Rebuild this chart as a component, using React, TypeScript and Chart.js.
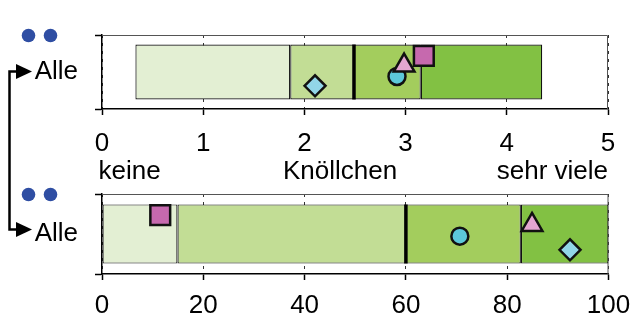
import React, { useEffect, useRef } from "react";
import { Chart, registerables } from "chart.js";

Chart.register(...registerables);

const FONT = "'Liberation Sans', Arial, Helvetica, sans-serif";
const FONT_SIZE = 26;

// ---------- data ----------
const groupLabels = ["Alle"];

// upper panel: nodule score 0..5 (segment edges: min, q1, median, q3, max)
const scoreBounds = [0.33, 1.86, 2.49, 3.15, 4.35];
const scoreMedian = 2.49;
// markers in order: square, triangle, circle, diamond
const scoreMarkers = [3.18, 2.985, 2.915, 2.105];
const scoreMarkerRows = [0.828, 0.631, 0.409, 0.22];
const scoreTickStep = 1;
const scoreMax = 5;

// lower panel: percent 0..100
const pctBounds = [0, 14.9, 60, 82.7, 100];
const pctMedian = 60;
const pctMarkers = [11.5, 84.9, 70.65, 92.4];
const pctMarkerRows = [0.854, 0.67, 0.459, 0.204];
const pctTickStep = 20;
const pctMax = 100;

const scaleWords = ["keine", "Knöllchen", "sehr viele"];

// ---------- styles ----------
const segColors = ["#E3EFD3", "#C2DD95", "#A3CD5D", "#82C143"];
const markerStyles = ["rect", "triangle", "circle", "rectRot"];
const markerColors = ["#C669AE", "#E3A6D0", "#5CC8DA", "#92D6E8"];
const markerRadius = [14, 12, 8.5, 10.5];

type Layout = {
  area: { left: number; top: number; right: number; bottom: number };
  xAxisHeight: number;
  labelPad: number;
  medianHalf: number;
  annotate: boolean;
};

function buildConfig(
  bounds: number[],
  median: number,
  markers: number[],
  rows: number[],
  max: number,
  step: number,
  lay: Layout
): any {
  const datasets: any[] = [];
  markers.forEach((v, i) => {
    datasets.push({
      type: "scatter",
      indexAxis: "x",
      xAxisID: "x",
      yAxisID: "y2",
      order: 0,
      data: [{ x: v, y: rows[i] }],
      pointStyle: markerStyles[i],
      radius: markerRadius[i],
      backgroundColor: markerColors[i],
      borderColor: "#111",
      borderWidth: 2.5,
    });
  });
  datasets.push({
    type: "scatter",
    indexAxis: "x",
    xAxisID: "x",
    yAxisID: "y2",
    order: 1,
    data: [{ x: median, y: 0.5 }],
    pointStyle: "line",
    rotation: 90,
    radius: lay.medianHalf,
    borderColor: "#000",
    borderWidth: 3.5,
  });
  for (let i = 0; i < bounds.length - 1; i++) {
    datasets.push({
      type: "bar",
      xAxisID: "x",
      yAxisID: "y",
      order: 2,
      data: [[bounds[i], bounds[i + 1]]],
      backgroundColor: segColors[i],
      borderColor: "#111",
      borderWidth: 1.2,
      borderSkipped: false,
      grouped: false,
      barPercentage: 0.74,
      categoryPercentage: 1,
    });
  }

  const framePlugin = {
    id: "frame",
    beforeDatasetsDraw(chart: any) {
      const { ctx, chartArea } = chart;
      ctx.save();
      ctx.strokeStyle = "#555";
      ctx.lineWidth = 1;
      ctx.beginPath();
      ctx.moveTo(chartArea.left, chartArea.top + 0.5);
      ctx.lineTo(chartArea.right - 0.5, chartArea.top + 0.5);
      ctx.lineTo(chartArea.right - 0.5, chartArea.bottom);
      ctx.stroke();
      ctx.restore();
    },
  };

  const annotPlugin = {
    id: "annot",
    afterDraw(chart: any) {
      const { ctx, chartArea } = chart;
      ctx.save();
      ctx.fillStyle = "#2F4EA3";
      for (const cx of [28.5, 50.5]) {
        ctx.beginPath();
        ctx.arc(cx, chartArea.top + 0.5, 6.8, 0, Math.PI * 2);
        ctx.fill();
      }
      if (lay.annotate) {
        ctx.fillStyle = "#000";
        ctx.font = `${FONT_SIZE}px ${FONT}`;
        ctx.textBaseline = "alphabetic";
        const base = 179;
        ctx.textAlign = "left";
        ctx.fillText(scaleWords[0], 98.5, base);
        ctx.textAlign = "center";
        ctx.fillText(scaleWords[1], 340, base);
        ctx.textAlign = "right";
        ctx.fillText(scaleWords[2], chartArea.right, base);

        const x0 = 9.5;
        const yA = 71.5;
        const yB = 229.5;
        ctx.strokeStyle = "#000";
        ctx.lineWidth = 2.5;
        ctx.beginPath();
        ctx.moveTo(18, yA);
        ctx.lineTo(x0, yA);
        ctx.lineTo(x0, yB);
        ctx.lineTo(18, yB);
        ctx.stroke();
        ctx.fillStyle = "#000";
        for (const y of [yA, yB]) {
          ctx.beginPath();
          ctx.moveTo(16, y - 7.5);
          ctx.lineTo(32, y);
          ctx.lineTo(16, y + 7.5);
          ctx.closePath();
          ctx.fill();
        }
      }
      ctx.restore();
    },
  };

  const W = 634;
  const H = 320;
  return {
    type: "bar",
    data: { labels: groupLabels, datasets },
    plugins: [framePlugin, annotPlugin],
    options: {
      indexAxis: "y",
      animation: false,
      responsive: false,
      maintainAspectRatio: false,
      events: [],
      layout: {
        autoPadding: false,
        padding: {
          top: lay.area.top,
          right: W - lay.area.right,
          bottom: H - lay.area.bottom - lay.xAxisHeight,
          left: 0,
        },
      },
      plugins: {
        legend: { display: false },
        tooltip: { enabled: false },
        title: { display: false },
      },
      scales: {
        x: {
          type: "linear",
          position: "bottom",
          min: 0,
          max,
          ticks: {
            stepSize: step,
            color: "#000",
            font: { family: FONT, size: FONT_SIZE },
            padding: lay.labelPad,
            maxRotation: 0,
            autoSkip: false,
          },
          grid: {
            display: true,
            color: "#333",
            lineWidth: 1,
            drawOnChartArea: true,
            drawTicks: true,
            tickLength: 6,
            tickColor: "#000",
            tickWidth: 1.5,
          },
          border: { display: true, color: "#000", width: 1.5, dash: [3, 5] },
          afterFit: (s: any) => {
            s.height = lay.xAxisHeight;
            s.paddingLeft = 0;
            s.paddingRight = 0;
            s.paddingTop = 0;
            s.paddingBottom = 0;
          },
        },
        y: {
          type: "category",
          position: "left",
          offset: true,
          ticks: {
            color: "#000",
            font: { family: FONT, size: FONT_SIZE },
            padding: 17,
          },
          grid: {
            offset: true,
            drawOnChartArea: false,
            drawTicks: true,
            tickLength: 7,
            tickColor: "#000",
            tickWidth: 1.5,
          },
          border: { display: true, color: "#000", width: 1.5 },
          afterFit: (s: any) => {
            s.width = lay.area.left;
            s.paddingLeft = 0;
            s.paddingRight = 0;
            s.paddingTop = 0;
            s.paddingBottom = 0;
          },
        },
        y2: {
          type: "linear",
          display: false,
          position: "left",
          min: 0,
          max: 1,
        },
      },
    },
  };
}

// nudge the layout padding until the plot area sits where it should
function settle(chart: any, lay: Layout) {
  for (let k = 0; k < 5; k++) {
    const ca = chart.chartArea;
    const p = chart.config.options.layout.padding;
    const dt = lay.area.top - ca.top;
    const db = ca.bottom - lay.area.bottom;
    const dr = ca.right - lay.area.right;
    if (Math.abs(dt) < 0.25 && Math.abs(db) < 0.25 && Math.abs(dr) < 0.25) break;
    p.top += dt;
    p.bottom += db;
    p.right += dr;
    chart.update("none");
  }
}

const topLayout: Layout = {
  area: { left: 102, top: 35, right: 608, bottom: 109 },
  xAxisHeight: 60,
  labelPad: 13,
  medianHalf: 27.5,
  annotate: true,
};
const botLayout: Layout = {
  area: { left: 102, top: 194, right: 608.5, bottom: 274 },
  xAxisHeight: 44,
  labelPad: 10,
  medianHalf: 29.5,
  annotate: false,
};

export default function App() {
  const topRef = useRef<HTMLCanvasElement>(null);
  const botRef = useRef<HTMLCanvasElement>(null);

  useEffect(() => {
    const top: any = new Chart(
      topRef.current as HTMLCanvasElement,
      buildConfig(scoreBounds, scoreMedian, scoreMarkers, scoreMarkerRows, scoreMax, scoreTickStep, topLayout)
    );
    const bot: any = new Chart(
      botRef.current as HTMLCanvasElement,
      buildConfig(pctBounds, pctMedian, pctMarkers, pctMarkerRows, pctMax, pctTickStep, botLayout)
    );
    settle(top, topLayout);
    settle(bot, botLayout);
    return () => {
      top.destroy();
      bot.destroy();
    };
  }, []);

  return (
    <div style={{ position: "absolute", left: 0, top: 0, width: 634, height: 320, background: "#fff" }}>
      <canvas ref={topRef} width={634} height={320} style={{ position: "absolute", left: 0, top: 0 }} />
      <canvas ref={botRef} width={634} height={320} style={{ position: "absolute", left: 0, top: 0 }} />
    </div>
  );
}
